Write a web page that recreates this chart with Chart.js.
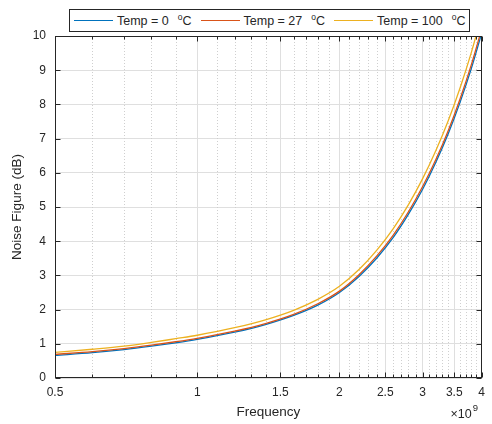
<!DOCTYPE html>
<html>
<head>
<meta charset="utf-8">
<script src="https://cdn.jsdelivr.net/npm/chart.js@4"></script>
<style>
  html, body { margin: 0; padding: 0; background: #fff; }
  #wrap { position: relative; width: 492px; height: 424px; }
  #legend {
    position: absolute; left: 69px; top: 9px; width: 401px; height: 23px;
    box-sizing: border-box; border: 1px solid #262626; background: #fff;
    display: flex; align-items: center; padding-left: 4px; gap: 9px;
    font-family: "Liberation Sans", Arial, sans-serif; font-size: 12.5px; color: #262626;
    white-space: nowrap;
  }
  .item { display: flex; align-items: center; }
  .swatch { width: 39px; height: 0; border-top: 1.3px solid; margin-right: 4px; }
  .deg { font-size: 8.5px; position: relative; top: -4px; margin-left: 9px; }
</style>
</head>
<body>
<div id="wrap">
  <canvas id="nf" width="492" height="424"></canvas>
  <div id="legend"></div>
</div>
<script>
// frequency in units of 1e9 Hz
const freq = [0.5, 0.6, 0.7, 0.8, 0.9, 1.0, 1.2, 1.4, 1.6, 1.8, 2.0, 2.2, 2.4, 2.6, 2.8, 3.0, 3.2, 3.4, 3.6, 3.8, 4.0];
const nfTemp0   = [0.66, 0.74, 0.83, 0.93, 1.03, 1.13, 1.34, 1.57, 1.83, 2.13, 2.50, 2.97, 3.51, 4.11, 4.79, 5.52, 6.31, 7.15, 8.06, 9.03, 10.08];
const nfTemp27  = [0.69, 0.77, 0.86, 0.96, 1.06, 1.16, 1.37, 1.60, 1.86, 2.17, 2.54, 3.02, 3.57, 4.18, 4.86, 5.60, 6.39, 7.24, 8.16, 9.14, 10.20];
const nfTemp100 = [0.75, 0.84, 0.93, 1.04, 1.15, 1.25, 1.47, 1.71, 1.98, 2.30, 2.68, 3.17, 3.74, 4.37, 5.07, 5.83, 6.65, 7.53, 8.48, 9.50, 10.60];

const temps = ['0', '27', '100'];
const seriesValues = [nfTemp0, nfTemp27, nfTemp100];
const seriesColors = ['#0072BD', '#D95319', '#EDB120'];

const xMajorTicks = [0.5, 1, 1.5, 2, 2.5, 3, 3.5, 4];
const xMinorTicks = [0.6, 0.7, 0.8, 0.9, 1.1, 1.2, 1.3, 1.4, 1.6, 1.7, 1.8, 1.9,
                     2.1, 2.2, 2.3, 2.4, 2.6, 2.7, 2.8, 2.9, 3.1, 3.2, 3.3, 3.4, 3.6, 3.7, 3.8, 3.9];
const yTicks = [0, 1, 2, 3, 4, 5, 6, 7, 8, 9, 10];

const FONT = '"Liberation Sans", Arial, sans-serif';
const AXIS = '#262626';

// legend (html so the degree sign can be a superscript o)
const legend = document.getElementById('legend');
temps.forEach((t, i) => {
  const item = document.createElement('div');
  item.className = 'item';
  item.innerHTML = '<span class="swatch" style="border-color:' + seriesColors[i] + '"></span>' +
    '<span>Temp = ' + t + '</span><span class="deg">o</span><span>C</span>';
  legend.appendChild(item);
});

const matlabAxes = {
  id: 'matlabAxes',
  beforeDatasetsDraw(chart) {
    const { ctx, chartArea: a, scales: { x } } = chart;
    ctx.save();
    ctx.strokeStyle = '#cfcfcf';
    ctx.lineWidth = 1;
    ctx.setLineDash([1, 2]);
    xMinorTicks.forEach(v => {
      const px = Math.round(x.getPixelForValue(v)) + 0.5;
      ctx.beginPath();
      ctx.moveTo(px, a.top);
      ctx.lineTo(px, a.bottom);
      ctx.stroke();
    });
    ctx.restore();
  },
  afterDatasetsDraw(chart) {
    const { ctx, chartArea: a, scales: { x, y } } = chart;
    const L = Math.round(a.left) + 0.5, R = Math.round(a.right) - 0.5;
    const T = Math.round(a.top) + 0.5, B = Math.round(a.bottom) - 0.5;
    ctx.save();
    ctx.strokeStyle = AXIS;
    ctx.lineWidth = 1;
    ctx.strokeRect(L, T, R - L, B - T);
    ctx.beginPath();
    xMajorTicks.forEach(v => {
      const px = Math.round(x.getPixelForValue(v)) + 0.5;
      ctx.moveTo(px, B); ctx.lineTo(px, B - 5);
      ctx.moveTo(px, T); ctx.lineTo(px, T + 5);
    });
    xMinorTicks.forEach(v => {
      const px = Math.round(x.getPixelForValue(v)) + 0.5;
      ctx.moveTo(px, B); ctx.lineTo(px, B - 3);
      ctx.moveTo(px, T); ctx.lineTo(px, T + 3);
    });
    yTicks.forEach(v => {
      const py = Math.round(y.getPixelForValue(v)) + 0.5;
      ctx.moveTo(L, py); ctx.lineTo(L + 5, py);
      ctx.moveTo(R, py); ctx.lineTo(R - 5, py);
    });
    ctx.stroke();
    // x10^9 exponent label
    ctx.fillStyle = AXIS;
    ctx.textBaseline = 'alphabetic';
    ctx.textAlign = 'right';
    ctx.font = '12.5px ' + FONT;
    ctx.fillText('\u00d710', a.right - 10, 418);
    ctx.textAlign = 'left';
    ctx.font = '9.5px ' + FONT;
    ctx.fillText('9', a.right - 9, 411);
    ctx.restore();
  }
};

new Chart(document.getElementById('nf'), {
  type: 'line',
  data: {
    datasets: seriesValues.map((vals, i) => ({
      label: 'Temp = ' + temps[i] + ' \u00b0C',
      data: freq.map((f, k) => ({ x: f, y: vals[k] })),
      borderColor: seriesColors[i],
      borderWidth: 1.3,
      pointRadius: 0,
      cubicInterpolationMode: 'monotone',
      fill: false,
      order: 2 - i
    }))
  },
  options: {
    responsive: false,
    animation: false,
    layout: { padding: { top: 36, right: 3, left: 0, bottom: 0 } },
    plugins: { legend: { display: false }, tooltip: { enabled: false } },
    scales: {
      x: {
        type: 'logarithmic',
        min: 0.5,
        max: 4,
        afterBuildTicks: s => { s.ticks = xMajorTicks.map(v => ({ value: v })); },
        afterFit: s => { s.height = 46; },
        ticks: {
          autoSkip: false, maxRotation: 0, padding: 7, color: AXIS,
          font: { family: FONT, size: 12 },
          callback: v => String(v)
        },
        grid: { color: '#dfdfdf', drawTicks: false },
        border: { display: false },
        title: {
          display: true, text: 'Frequency', color: AXIS,
          font: { family: FONT, size: 13.5 }, padding: { top: 0, bottom: 4 }
        }
      },
      y: {
        min: 0,
        max: 10,
        afterBuildTicks: s => { s.ticks = yTicks.map(v => ({ value: v })); },
        afterFit: s => { s.width = 55; },
        ticks: { padding: 9, color: AXIS, font: { family: FONT, size: 12 } },
        grid: { color: '#dfdfdf', drawTicks: false },
        border: { display: false },
        title: {
          display: true, text: 'Noise Figure (dB)', color: AXIS,
          font: { family: FONT, size: 13.5 }, padding: { top: 9, bottom: 0 }
        }
      }
    }
  },
  plugins: [matlabAxes]
});
</script>
</body>
</html>
